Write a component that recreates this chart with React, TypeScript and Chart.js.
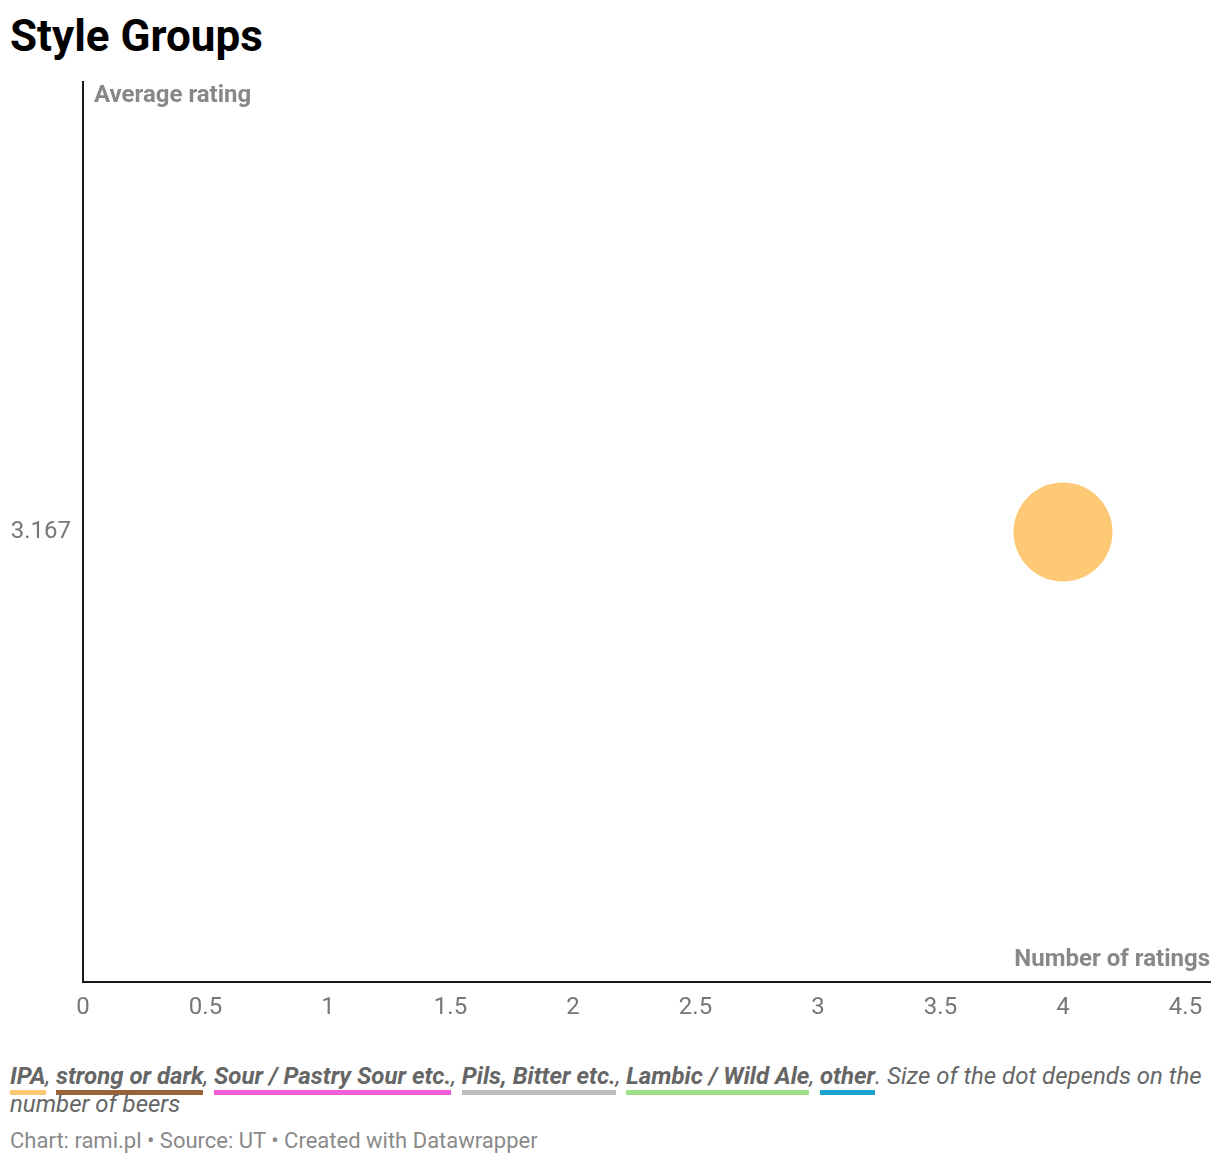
import React, { useRef, useEffect } from "react";
import { Chart, registerables } from "chart.js";

Chart.register(...registerables);

// data
const groups = ["IPA", "strong or dark", "Sour / Pastry Sour etc.", "Pils, Bitter etc.", "Lambic / Wild Ale", "other"];
const groupColors = ["#fec974", "#9a6438", "#ee5fd9", "#bdbdbd", "#9ee08a", "#1ba3d0"];
const ipaRatings = [4]; // number of ratings
const ipaAvg = [3.167]; // average rating
const ipaBeers = [1]; // number of beers
const yTicks = [3.167];
const xTicks = [0, 0.5, 1, 1.5, 2, 2.5, 3, 3.5, 4, 4.5];

const FONT = "Roboto, 'Noto Sans', sans-serif";
const dotRadius = (beers: number) => 49.5 * Math.sqrt(beers);

const ScatterChart = () => {
  const ref = useRef<HTMLCanvasElement>(null);

  useEffect(() => {
    if (!ref.current) return;
    const chart = new Chart(ref.current, {
      type: "bubble",
      data: {
        datasets: [
          {
            label: groups[0],
            data: ipaRatings.map((x, i) => ({ x, y: ipaAvg[i], r: dotRadius(ipaBeers[i]) })),
            backgroundColor: groupColors[0],
            borderWidth: 0,
          },
        ],
      },
      options: {
        animation: false,
        responsive: false,
        layout: { autoPadding: false, padding: { top: 12, right: 10, left: 0, bottom: 0 } },
        plugins: { legend: { display: false }, tooltip: { enabled: false } },
        scales: {
          x: {
            type: "linear",
            min: 0,
            max: 4.6,
            afterBuildTicks: (s: any) => {
              s.ticks = xTicks.map((v) => ({ value: v }));
            },
            afterFit: (s: any) => {
              s.height = 58;
              s.paddingLeft = 0;
              s.paddingRight = 0;
            },
            grid: { display: false, drawTicks: false },
            border: { display: true, color: "#1a1a1a", width: 2 },
            ticks: {
              color: "#777",
              font: { family: FONT, size: 24 },
              padding: 12,
              maxRotation: 0,
              autoSkip: false,
              callback: (v: any) => String(v),
            },
          },
          y: {
            type: "linear",
            min: 2.167,
            max: 4.167,
            afterBuildTicks: (s: any) => {
              s.ticks = yTicks.map((v) => ({ value: v }));
            },
            afterFit: (s: any) => {
              s.width = 83;
              s.paddingTop = 0;
              s.paddingBottom = 0;
            },
            grid: { display: false, drawTicks: false },
            border: { display: true, color: "#1a1a1a", width: 2 },
            ticks: {
              color: "#777",
              font: { family: FONT, size: 24 },
              padding: 12,
              callback: (v: any) => Number(v).toFixed(3),
            },
          },
        },
      },
    });
    return () => {
      chart.destroy();
    };
  }, []);

  return <canvas ref={ref} width={1220} height={970} style={{ display: "block" }} />;
};

const App = () => {
  return (
    <div style={{ position: "absolute", left: 0, top: 0, width: 1220, height: 1164, fontFamily: FONT, background: "#fff" }}>
      <div style={{ position: "absolute", left: 10, top: 8, fontSize: 44, fontWeight: 700, color: "#000", lineHeight: "56px" }}>
        Style Groups
      </div>
      <div style={{ position: "absolute", left: 0, top: 70 }}>
        <ScatterChart />
      </div>
      <div style={{ position: "absolute", left: 94, top: 80, fontSize: 24, fontWeight: 700, color: "#888", lineHeight: "28px" }}>
        Average rating
      </div>
      <div style={{ position: "absolute", right: 10, top: 944, fontSize: 24, fontWeight: 700, color: "#888", lineHeight: "28px", textAlign: "right" }}>
        Number of ratings
      </div>
      <div style={{ position: "absolute", left: 10, top: 1062, width: 1200, fontSize: 24, fontStyle: "italic", color: "#666", lineHeight: "28px" }}>
        {groups.map((g, i) => (
          <React.Fragment key={g}>
            <span style={{ fontWeight: 700, borderBottom: `5px solid ${groupColors[i]}` }}>{g}</span>
            {i < groups.length - 1 ? ", " : null}
          </React.Fragment>
        ))}
        . Size of the dot depends on the number of beers
      </div>
      <div style={{ position: "absolute", left: 10, top: 1127, fontSize: 22, color: "#8a8a8a", lineHeight: "28px" }}>
        Chart: rami.pl • Source: UT • Created with Datawrapper
      </div>
    </div>
  );
};

export default App;
